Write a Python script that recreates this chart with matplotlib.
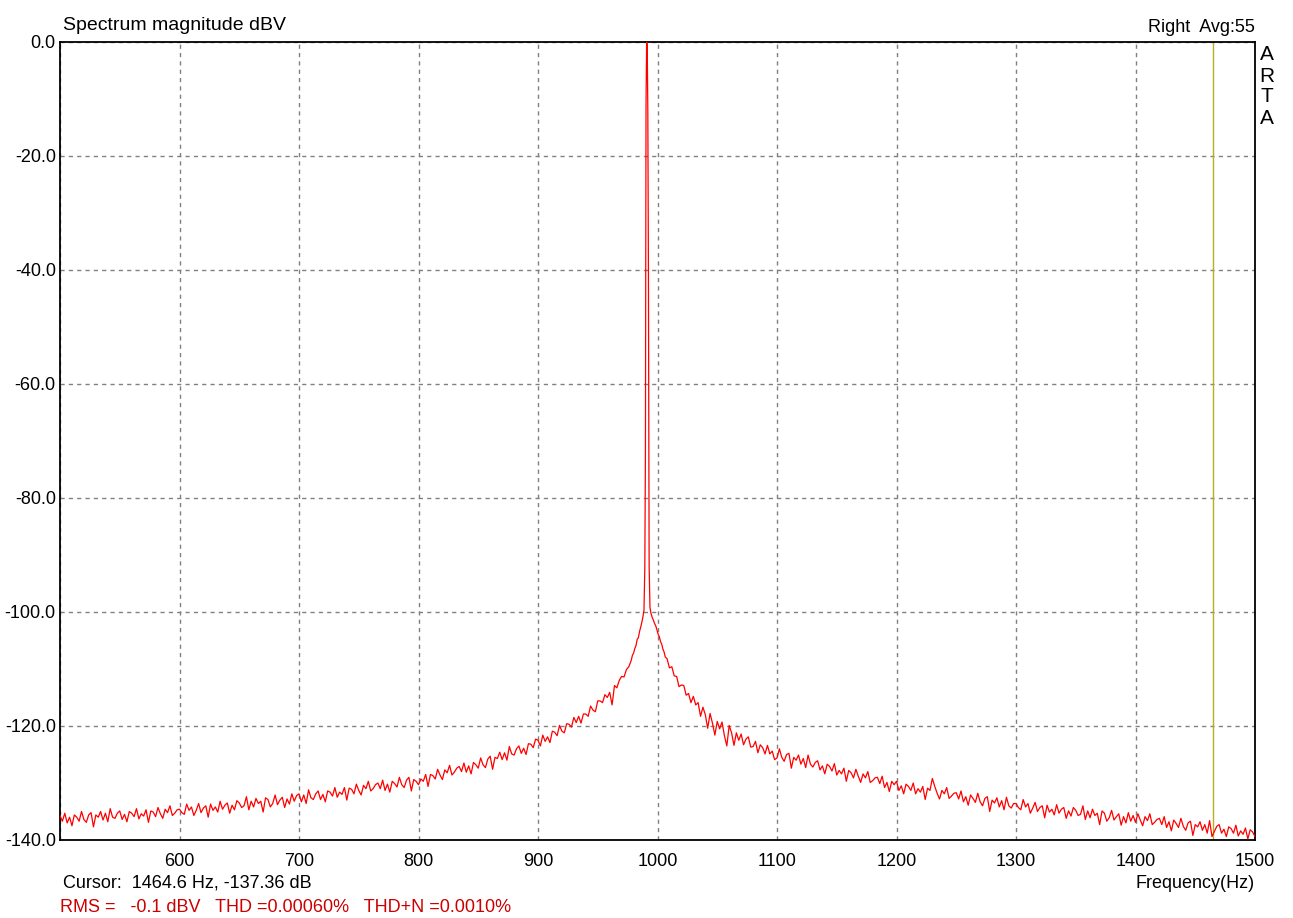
import numpy as np
import matplotlib.pyplot as plt

plt.rcParams['font.family'] = ['Liberation Sans', 'DejaVu Sans']

# averaged noise floor every 2 Hz, 500..976 Hz and 1008..1500 Hz
floor_500 = [-135.7, -136.7, -135.3, -137.0, -136.0, -137.5, -135.6, -136.0, -136.7, -135.0,
             -136.4, -136.9, -135.6, -135.2, -137.7, -135.6, -136.0, -135.0, -136.5, -135.3,
             -136.8, -134.5, -136.0, -136.2, -135.3, -134.9, -136.4, -135.5, -136.8, -135.0,
             -135.3, -135.9, -134.5, -136.3, -135.4, -135.8, -134.7, -136.9, -134.9, -135.1,
             -135.9, -134.3, -135.4, -136.2, -134.6, -135.2, -134.0, -135.7, -135.3, -134.7]
floor_600 = [-134.6, -135.2, -135.5, -133.7, -134.8, -134.2, -135.7, -134.8, -133.6, -135.2,
             -134.4, -134.0, -136.0, -133.7, -134.8, -134.2, -135.1, -133.2, -134.6, -133.9,
             -133.5, -135.3, -133.9, -134.7, -133.1, -133.5, -134.3, -134.0, -132.4, -134.7,
             -133.2, -134.2, -132.7, -133.6, -133.2, -135.1, -132.6, -132.9, -134.2, -133.6,
             -132.1, -133.8, -133.0, -132.5, -134.3, -132.8, -133.7, -131.9, -133.2, -132.2]
floor_700 = [-131.9, -133.3, -132.1, -133.6, -131.2, -132.6, -132.9, -131.9, -131.4, -132.9,
             -132.0, -133.3, -131.4, -131.6, -132.3, -130.8, -132.5, -131.6, -132.0, -130.8,
             -133.0, -130.9, -131.1, -131.9, -130.2, -131.3, -132.1, -130.4, -131.0, -129.7,
             -131.4, -131.0, -130.3, -130.0, -131.0, -129.5, -131.3, -130.2, -131.6, -129.7,
             -130.1, -130.7, -129.0, -130.3, -130.8, -129.5, -129.0, -131.4, -129.4, -129.7]
floor_800 = [-130.3, -129.3, -129.7, -128.5, -130.6, -128.5, -128.7, -129.3, -127.6, -128.6,
             -129.4, -127.7, -128.2, -126.9, -128.6, -128.1, -127.4, -127.1, -128.0, -126.5,
             -128.1, -127.0, -128.4, -126.4, -126.8, -127.4, -125.6, -126.8, -127.3, -125.8,
             -125.3, -127.6, -125.5, -125.7, -124.6, -125.9, -124.7, -126.0, -123.6, -124.9,
             -125.1, -124.0, -123.5, -124.8, -123.9, -125.0, -123.1, -123.2, -123.8, -122.3]
floor_900 = [-122.5, -123.5, -121.6, -122.7, -121.9, -122.9, -120.9, -121.1, -121.7, -119.9,
             -120.9, -121.2, -119.6, -119.7, -120.2, -118.5, -119.4, -118.3, -119.5, -117.9,
             -117.9, -118.3, -116.5, -117.2, -117.5, -115.6, -115.6, -115.9, -114.5, -115.0,
             -114.1, -116.3, -112.9, -113.3, -112.0, -111.3, -111.4, -110.1, -109.6]
floor_1008 = [-108.2, -109.8, -109.6, -111.2, -111.3, -113.1, -112.8, -112.9, -114.6, -114.3,
              -115.9, -114.8, -116.3, -115.9, -118.3, -116.7, -118.0, -120.4, -117.8, -119.5,
              -121.6, -119.2, -120.5, -119.3, -121.7, -123.5, -119.9, -121.2, -123.4, -121.2,
              -122.5, -121.4, -123.3, -122.3, -121.9, -123.7, -123.6, -122.7, -124.7, -123.3,
              -123.8, -124.9, -123.4, -124.9, -124.4, -125.9]
floor_1100 = [-125.6, -124.0, -125.5, -126.2, -125.0, -124.8, -127.4, -125.5, -126.0, -125.1,
              -126.7, -125.7, -127.3, -125.1, -126.7, -127.2, -126.4, -126.1, -127.7, -127.0,
              -128.4, -126.7, -127.1, -127.9, -126.6, -128.6, -127.8, -128.4, -127.4, -129.7,
              -127.8, -128.2, -129.1, -127.6, -128.8, -129.9, -128.4, -129.1, -128.0, -129.9,
              -129.6, -129.1, -129.0, -130.1, -128.8, -130.8, -129.9, -131.5, -129.7, -130.3]
floor_1200 = [-129.7, -131.3, -130.5, -131.9, -130.2, -130.6, -131.3, -130.0, -131.9, -131.0,
              -131.6, -130.6, -132.9, -130.9, -131.3, -129.2, -130.6, -131.8, -132.8, -131.3,
              -131.9, -130.8, -132.7, -132.3, -131.8, -131.7, -132.8, -131.4, -133.3, -132.4,
              -133.9, -132.1, -132.7, -133.4, -131.8, -133.3, -134.0, -132.7, -132.4, -135.0,
              -133.0, -133.5, -132.6, -134.2, -133.1, -134.7, -132.5, -134.0, -134.4, -133.6]
floor_1300 = [-133.6, -134.3, -134.7, -132.9, -134.2, -133.6, -135.3, -134.4, -133.4, -135.0,
              -134.3, -134.0, -136.1, -133.9, -135.1, -134.6, -135.6, -133.8, -135.3, -134.6,
              -134.3, -136.2, -134.9, -135.8, -134.3, -134.8, -135.7, -135.5, -134.0, -136.4,
              -134.9, -136.1, -134.6, -135.7, -135.3, -137.3, -134.9, -135.3, -136.7, -136.1,
              -134.8, -136.5, -135.9, -135.4, -137.4, -135.9, -137.0, -135.2, -136.7, -135.7]
floor_1400 = [-136.9, -135.4, -136.5, -137.5, -135.9, -136.6, -135.4, -137.3, -136.9, -136.4,
              -136.2, -137.3, -135.9, -137.8, -136.8, -138.4, -136.5, -137.1, -137.8, -136.2,
              -137.6, -138.3, -137.0, -136.7, -139.2, -137.3, -137.7, -136.8, -138.3, -137.3,
              -138.8, -136.6, -139.4, -138.5, -137.6, -137.3, -138.8, -138.1, -139.4, -137.7,
              -138.0, -138.8, -137.4, -139.3, -138.4, -139.0, -137.9, -139.8, -138.2, -138.6,
              -139.4]

# the tone around 991 Hz and its skirt
peak_freq = [978, 979, 980, 981, 982, 983, 984, 985, 986, 987, 988, 988.7, 989.4, 989.9,
             990.4, 990.9, 991.4, 991.9, 992.4, 993.0, 993.7, 994.5, 995.5, 996.5, 997.5,
             998.5, 999.5, 1000.5, 1001.5, 1002.5, 1003.5, 1004.5, 1005.5, 1006.5]
peak_db = [-108.5, -107.6, -107.2, -106.4, -105.9, -104.8, -104.5, -103.4, -102.6, -101.7,
           -100.6, -99.6, -92.0, -72.0, -11.0, 0.0, -0.5, -12.0, -40.0, -92.0,
           -99.2, -100.2, -100.9, -101.4, -102.0, -102.4, -103.1, -103.9, -104.3, -105.2,
           -105.6, -106.5, -107.0, -107.9]

cursor_hz = 1464.6

left_f = np.arange(500, 977, 2)
left_db = floor_500 + floor_600 + floor_700 + floor_800 + floor_900
right_f = np.arange(1008, 1501, 2)
right_db = floor_1008 + floor_1100 + floor_1200 + floor_1300 + floor_1400

freq = np.concatenate([left_f, peak_freq, right_f])
level = np.concatenate([left_db, peak_db, right_db])

fig = plt.figure(figsize=(12.93, 9.18), dpi=100)
ax = fig.add_axes([60/1293, 1-840/918, 1195/1293, 798/918])

ax.plot(freq, level, color='#ff0000', lw=0.9, zorder=3)
ax.axvline(cursor_hz, color='#b8b020', lw=1.0, zorder=2)

ax.set_xlim(500, 1500)
ax.set_ylim(-140, 0)
ax.set_xticks(np.arange(500, 1501, 100))
ax.set_xticklabels([''] + [str(v) for v in range(600, 1501, 100)])
ax.set_yticks(np.arange(-140, 1, 20))
ax.set_yticklabels(['%.1f' % v for v in np.arange(-140, 1, 20)])
ax.tick_params(length=0, labelsize=13, pad=3)
ax.tick_params(axis='x', pad=9)
ax.grid(True, color='#808080', linestyle=(0, (3, 3)), lw=1.0)
for s in ax.spines.values():
    s.set_linewidth(1.3)

fig.text(63/1293, 1-26/918, 'Spectrum magnitude dBV', fontsize=14, va='center', ha='left')
fig.text(1255/1293, 1-27/918, 'Right  Avg:55', fontsize=13, va='center', ha='right')
for i, ch in enumerate('ARTA'):
    fig.text(1267/1293, 1-(55+21*i)/918, ch, fontsize=15, va='center', ha='center')
fig.text(63/1293, 1-883/918, 'Cursor:  1464.6 Hz, -137.36 dB', fontsize=13, va='center', ha='left')
fig.text(1255/1293, 1-883/918, 'Frequency(Hz)', fontsize=13, va='center', ha='right')
fig.text(60/1293, 1-907/918, 'RMS =   -0.1 dBV   THD =0.00060%   THD+N =0.0010%',
         fontsize=13, va='center', ha='left', color='#cc0000')

fig.savefig('out.png', dpi=100)
